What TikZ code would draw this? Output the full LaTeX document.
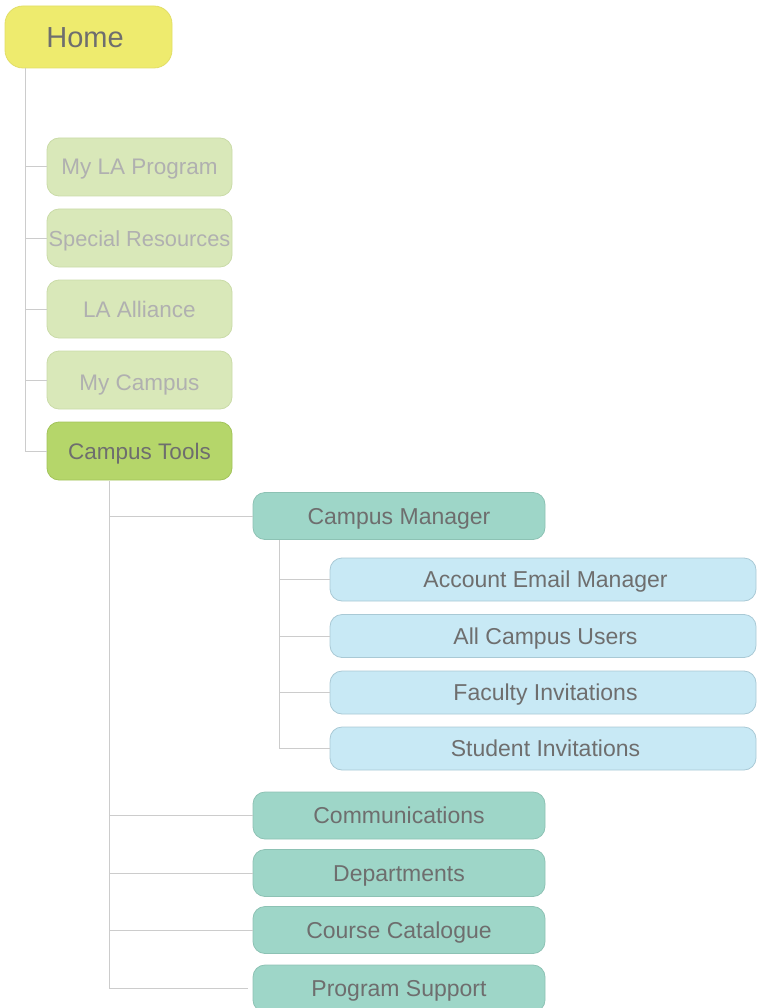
\documentclass[tikz,border=0pt]{standalone}
\usepackage{fontspec}
\setmainfont{Liberation Sans}
\definecolor{homefill}{HTML}{EEEB6E}
\definecolor{homedraw}{HTML}{E2DE66}
\definecolor{lightfill}{HTML}{D9E8B9}
\definecolor{lightdraw}{HTML}{CADBA8}
\definecolor{lighttext}{HTML}{B0B0B0}
\definecolor{toolsfill}{HTML}{B5D66A}
\definecolor{toolsdraw}{HTML}{A2C35A}
\definecolor{tealfill}{HTML}{9ED6C8}
\definecolor{tealdraw}{HTML}{8DC2B4}
\definecolor{bluefill}{HTML}{C8E9F5}
\definecolor{bluedraw}{HTML}{A9C9D5}
\definecolor{darktext}{HTML}{6E6E6E}
\definecolor{linecol}{HTML}{CCCCCC}
\begin{document}
\begin{tikzpicture}[x=1pt,y=-1pt,
  box/.style={rectangle, rounded corners=12pt, inner sep=0pt, line width=0.8pt, align=center,
    text height=16pt, text depth=0pt},
  homebox/.style={box, rounded corners=18pt, fill=homefill, draw=homedraw, text=darktext,
    minimum width=167pt, minimum height=62pt, font=\fontsize{29}{34}\selectfont,
    text height=21pt},
  lightbox/.style={box, fill=lightfill, draw=lightdraw, text=lighttext,
    minimum width=185pt, minimum height=58pt, font=\fontsize{22.5}{26}\selectfont},
  toolsbox/.style={lightbox, fill=toolsfill, draw=toolsdraw, text=darktext},
  tealbox/.style={box, fill=tealfill, draw=tealdraw, text=darktext,
    minimum width=292pt, minimum height=47pt, font=\fontsize{23}{27}\selectfont},
  bluebox/.style={box, fill=bluefill, draw=bluedraw, text=darktext,
    minimum width=426pt, minimum height=43pt, font=\fontsize{23}{27}\selectfont},
  conn/.style={draw=linecol, line width=1pt}]
\useasboundingbox (0,0) rectangle (757,1008);

\node[homebox] (home) at (88.5,37) {\hspace*{-7pt}Home};

\node[lightbox] (prog) at (139.5,167) {My LA Program};
\node[lightbox, font=\fontsize{21.8}{26}\selectfont] (spec) at (139.5,238) {Special Resources};
\node[lightbox] (alli) at (139.5,309) {LA Alliance};
\node[lightbox, text height=20pt] (camp) at (139.5,380) {My Campus};
\node[toolsbox] (tools) at (139.5,451) {Campus Tools};

\node[tealbox] (mgr) at (399,516) {Campus Manager};
\node[bluebox] (acct) at (543,579.5) {\hspace*{5pt}Account Email Manager};
\node[bluebox] (users) at (543,636) {\hspace*{5pt}All Campus Users};
\node[bluebox] (fac) at (543,692.5) {\hspace*{5pt}Faculty Invitations};
\node[bluebox] (stud) at (543,748.5) {\hspace*{5pt}Student Invitations};

\node[tealbox] (comm) at (399,815.5) {Communications};
\node[tealbox] (dept) at (399,873) {Departments};
\node[tealbox] (cat) at (399,930) {Course Catalogue};
\node[tealbox] (psup) at (399,988.5) {Program Support};

% first level
\coordinate (s1) at (25,68);
\draw[conn] (s1) |- (tools.west);
\foreach \n in {prog,spec,alli,camp} \draw[conn] (\n.west) -- (\n.west -| s1);

% second level
\coordinate (s2) at (109,481);
\draw[conn] (s2) |- ([xshift=-5pt]psup.west);
\foreach \n in {mgr,comm,dept,cat} \draw[conn] (\n.west) -- (\n.west -| s2);

% third level
\coordinate (s3) at (279,540);
\draw[conn] (s3) |- (stud.west);
\foreach \n in {acct,users,fac} \draw[conn] (\n.west) -- (\n.west -| s3);
\end{tikzpicture}
\end{document}
